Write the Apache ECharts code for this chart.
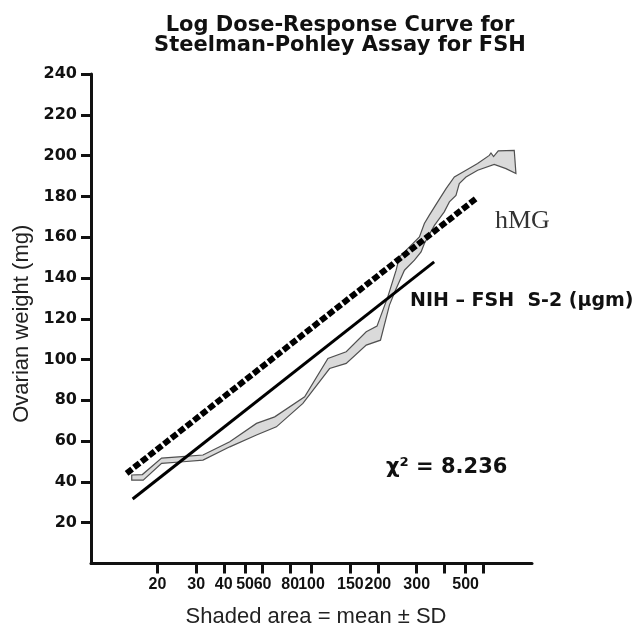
<!DOCTYPE html>
<html>
<head>
<meta charset="utf-8">
<script src="https://cdn.jsdelivr.net/npm/echarts@6/dist/echarts.min.js"></script>
<style>
html,body{margin:0;padding:0;background:#fff;}
#chart{width:637px;height:627px;}
</style>
</head>
<body>
<div id="chart"></div>
<script>
// x ticks (dose, log scale) and labels
const xTicks = [20, 30, 40, 50, 60, 80, 100, 150, 200, 300, 400, 500, 600];
const xLabels = [20, 30, 40, 50, 60, 80, 100, 150, 200, 300, 500];
const yTicks = [20, 40, 60, 80, 100, 120, 140, 160, 180, 200, 220, 240];

// hMG regression line (dashed)
const hmgLineDose = [14.5, 557];
const hmgLineWt = [44.2, 178.9];
// NIH-FSH S-2 regression line (solid)
const nihLineDose = [15.45, 360];
const nihLineWt = [31.6, 147.9];

// shaded band (mean ± SD): upper edge left->right
const bandUpperDose = [15.3, 17.1, 20.9, 25.8, 32.2, 42.6, 56.3, 68.1, 93.1, 118.7, 143.7, 177.1, 198.2, 221.8, 242, 250.5, 308.6, 325, 342.4, 373.4, 407.6, 444.5, 502.1, 566.6, 640.3, 651.6, 669.4, 703, 830.7, 845.6];
const bandUpperWt = [43.4, 43.6, 51.7, 52.4, 53.2, 59.7, 68.7, 71.9, 81.7, 100.5, 103.8, 113.6, 116.4, 130.7, 143.8, 150.3, 160.1, 166.7, 170.8, 177.3, 183.8, 189.5, 192.8, 196.1, 200.1, 201.3, 199.5, 202.3, 202.6, 191.2];
// lower edge right->left
const bandLowerDose = [762, 674, 567, 502, 468, 452, 422, 400, 380, 361, 325, 314, 293, 264, 240.3, 225.7, 205.5, 177.1, 143.7, 120.8, 91.4, 69.3, 56.3, 42.6, 32.2, 26.2, 20.9, 17.25, 15.3];
const bandLowerWt = [193.6, 195.7, 192.8, 189.5, 186.3, 180.5, 177.3, 172.4, 169.1, 165.8, 156.9, 152.8, 148.7, 143.8, 134.0, 126.7, 109.5, 107.1, 98.1, 95.6, 78.5, 67.0, 63.0, 57.2, 50.7, 49.9, 49.1, 40.9, 40.9];

const zip = (a, b) => a.map((v, i) => [v, b[i]]);

const chart = echarts.init(document.getElementById('chart'), null, {renderer: 'canvas'});
const option = {
  backgroundColor: '#ffffff',
  animation: false,
  title: {
    text: 'Log Dose-Response Curve for\nSteelman-Pohley Assay for FSH',
    left: 340,
    top: 16,
    padding: 0,
    textAlign: 'center',
    textStyle: {fontFamily: 'DejaVu Sans', fontWeight: 'bold', fontSize: 21, lineHeight: 19.5, color: '#111'}
  },
  grid: {left: 91, top: 74, right: 105, bottom: 63.5, containLabel: false, outerBoundsMode: 'none'},
  xAxis: {
    type: 'log',
    logBase: 10,
    min: 10,
    max: 1000,
    name: 'Shaded area = mean \u00b1 SD',
    nameLocation: 'middle',
    nameGap: 42,
    nameTextStyle: {fontFamily: 'Liberation Sans', fontSize: 22, color: '#222', padding: [0, 0, 0, 9]},
    axisLine: {show: true, lineStyle: {color: '#111', width: 3}},
    axisTick: {show: true, length: 10, lineStyle: {color: '#111', width: 3}, customValues: xTicks},
    axisLabel: {show: true, margin: 13, fontFamily: 'Liberation Sans', fontWeight: 'bold', fontSize: 16, color: '#111', customValues: xLabels, formatter: v => String(Math.round(v))},
    splitLine: {show: false},
    minorTick: {show: false}
  },
  yAxis: {
    type: 'value',
    min: 0,
    max: 240,
    interval: 20,
    name: 'Ovarian weight (mg)',
    nameLocation: 'middle',
    nameGap: 51,
    nameTextStyle: {fontFamily: 'Liberation Sans', fontSize: 22, color: '#222', padding: [0, 10, 0, 0]},
    axisLine: {show: true, lineStyle: {color: '#111', width: 3}},
    axisTick: {show: true, length: 10, lineStyle: {color: '#111', width: 3}, customValues: yTicks},
    axisLabel: {show: true, margin: 14, fontFamily: 'DejaVu Sans', fontWeight: 'bold', fontSize: 16, color: '#111', customValues: yTicks},
    splitLine: {show: false}
  },
  series: [
    {
      type: 'custom',
      name: 'band',
      coordinateSystem: 'cartesian2d',
      silent: true,
      z: 1,
      data: [[100, 100]],
      renderItem: function (params, api) {
        const pts = [];
        for (let i = 0; i < bandUpperDose.length; i++) pts.push(api.coord([bandUpperDose[i], bandUpperWt[i]]));
        for (let i = 0; i < bandLowerDose.length; i++) pts.push(api.coord([bandLowerDose[i], bandLowerWt[i]]));
        return {
          type: 'polygon',
          shape: {points: pts},
          style: {fill: '#dadada', stroke: '#505050', lineWidth: 1.2, lineJoin: 'miter'}
        };
      }
    },
    {
      type: 'line',
      name: 'NIH-FSH S-2',
      data: zip(nihLineDose, nihLineWt),
      showSymbol: false,
      z: 3,
      lineStyle: {color: '#000', width: 3}
    },
    {
      type: 'line',
      name: 'hMG',
      data: zip(hmgLineDose, hmgLineWt),
      showSymbol: false,
      z: 4,
      lineStyle: {color: '#000', width: 6, type: [7, 2.5], cap: 'butt'}
    }
  ],
  graphic: [
    {type: 'text', x: 495, y: 221.5, style: {text: 'hMG', font: '26px "Liberation Serif"', fill: '#333', verticalAlign: 'middle'}},
    {type: 'text', x: 410, y: 301, style: {text: 'NIH \u2013 FSH  S-2 (\u00b5gm)', font: 'bold 19px "DejaVu Sans"', fill: '#111', verticalAlign: 'middle'}},
    {type: 'text', x: 386, y: 468, style: {text: '\u03c7\u00b2 = 8.236', font: 'bold 21px "DejaVu Sans"', fill: '#111', verticalAlign: 'middle'}}
  ]
};
chart.setOption(option);
</script>
</body>
</html>
